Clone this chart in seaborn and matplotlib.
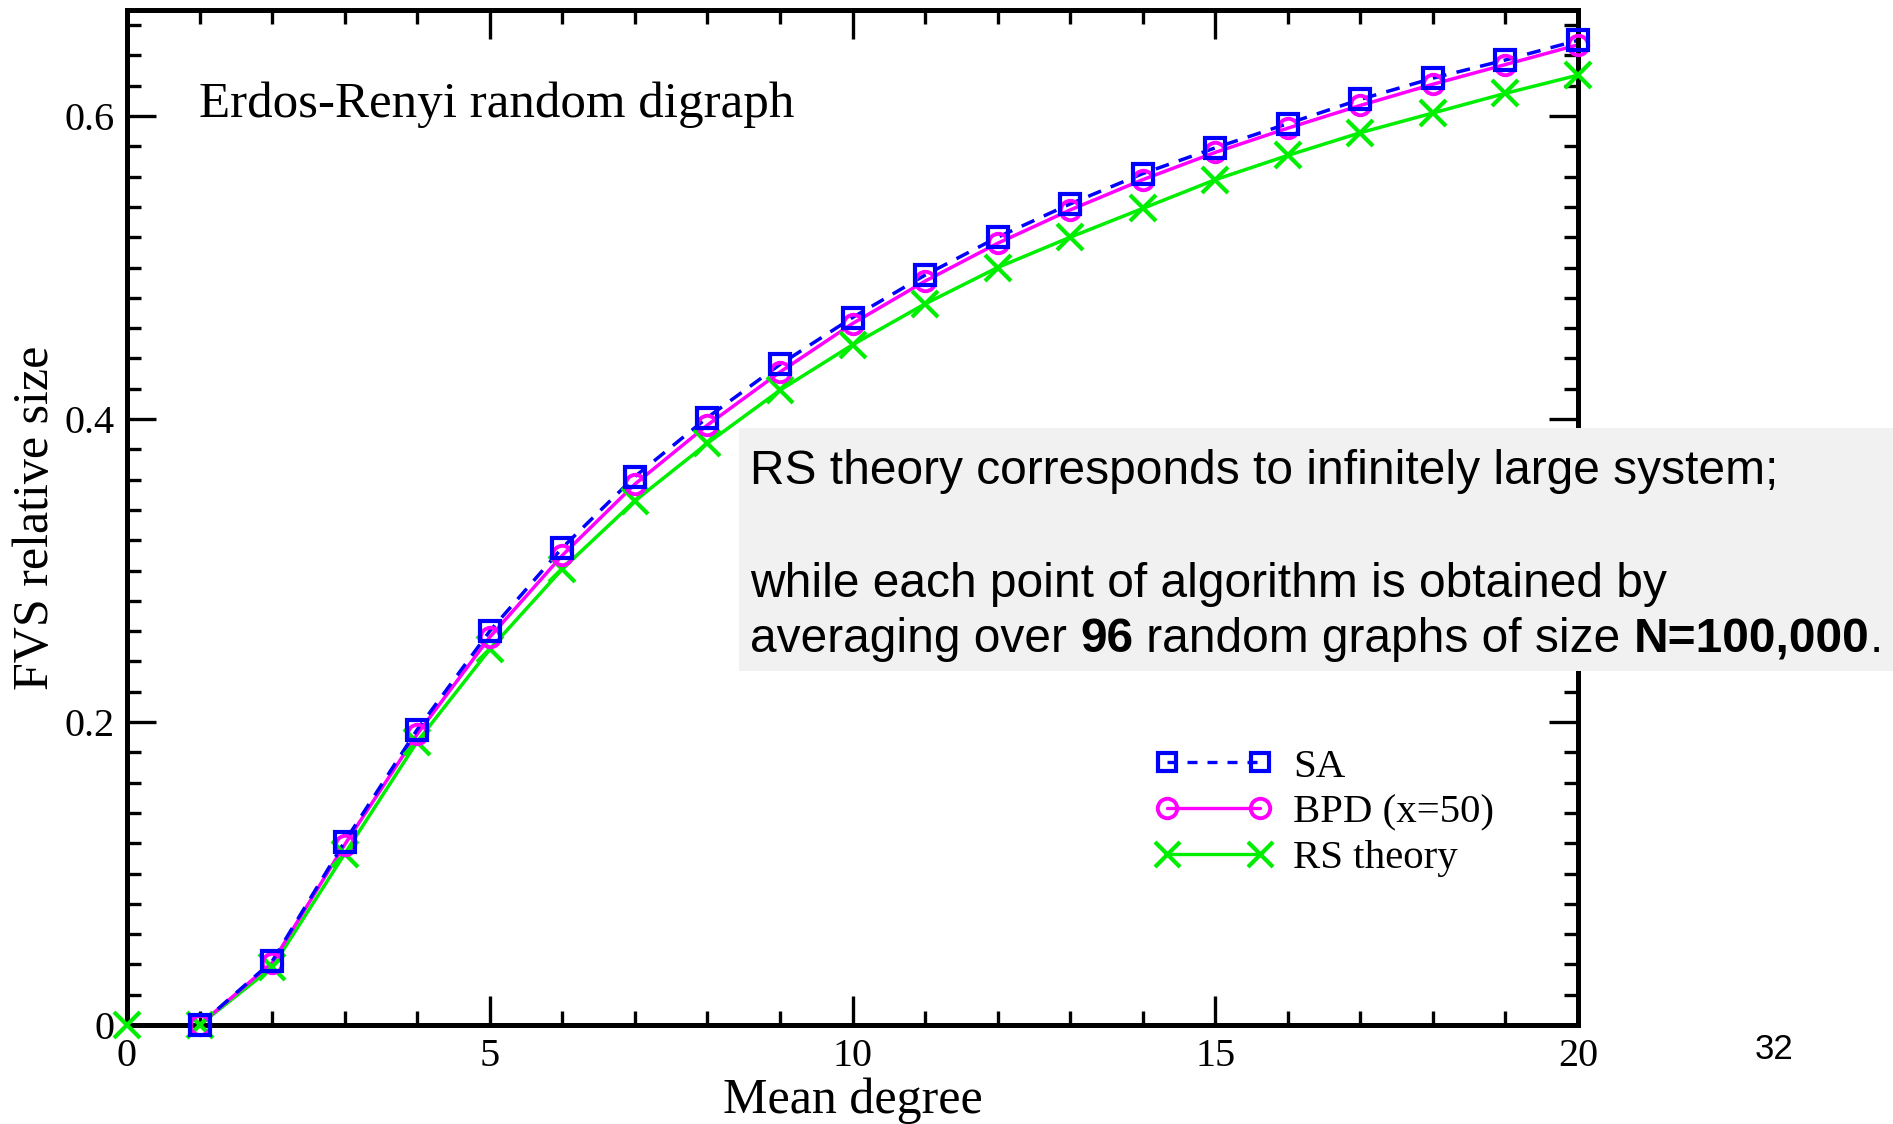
import matplotlib
matplotlib.use("Agg")
import matplotlib.pyplot as plt
from matplotlib.lines import Line2D
from matplotlib.patches import Rectangle
from matplotlib.ticker import MultipleLocator, FixedLocator
import seaborn as sns
import numpy as np

# ---- data ----
deg_alg = [1, 2, 3, 4, 5, 6, 7, 8, 9, 10, 11, 12, 13, 14, 15, 16, 17, 18, 19, 20]
sa_vals = [0.0, 0.042, 0.121, 0.195, 0.260, 0.315, 0.362, 0.401, 0.436, 0.467,
           0.495, 0.520, 0.542, 0.562, 0.579, 0.595, 0.611, 0.625, 0.637, 0.650]
bpd_vals = [0.0, 0.041, 0.119, 0.192, 0.256, 0.310, 0.357, 0.396, 0.431, 0.463,
            0.491, 0.516, 0.538, 0.558, 0.576, 0.592, 0.607, 0.621, 0.634, 0.647]
deg_rs = [0, 1, 2, 3, 4, 5, 6, 7, 8, 9, 10, 11, 12, 13, 14, 15, 16, 17, 18, 19, 20]
rs_vals = [0.0, 0.0, 0.038, 0.113, 0.187, 0.248, 0.301, 0.346, 0.384, 0.419, 0.449,
           0.476, 0.500, 0.520, 0.539, 0.558, 0.574, 0.589, 0.602, 0.615, 0.627]
series_labels = ["SA", "BPD (x=50)", "RS theory"]
x_ticks = [0, 5, 10, 15, 20]
y_ticks = [0, 0.2, 0.4, 0.6]
y_tick_labels = ["0", "0.2", "0.4", "0.6"]

W, H = 1893, 1124
DPI = 100
sns.set_style("white")
plt.rcParams["font.family"] = ["Liberation Serif", "DejaVu Serif"]
plt.rcParams["text.color"] = "black"
plt.rcParams["axes.labelcolor"] = "black"
plt.rcParams["xtick.color"] = "black"
plt.rcParams["ytick.color"] = "black"

fig = plt.figure(figsize=(W / DPI, H / DPI), dpi=DPI)
ax = fig.add_axes([127 / W, 1 - 1025 / H, (1578 - 127) / W, (1025 - 10) / H])

blue = "#0000ff"
mag = "#ff00ff"
green = "#00ee00"

# lines (below the spines)
sns.lineplot(x=deg_rs, y=rs_vals, ax=ax, color=green, lw=2.5, sort=False,
             errorbar=None, legend=False, zorder=2)
sns.lineplot(x=deg_alg, y=bpd_vals, ax=ax, color=mag, lw=2.5, sort=False,
             errorbar=None, legend=False, zorder=2)
sns.lineplot(x=deg_alg, y=sa_vals, ax=ax, color=blue, lw=2.5, linestyle=(0, (4, 3)),
             sort=False, errorbar=None, legend=False, zorder=2)
# markers (above the spines)
sns.lineplot(x=deg_rs, y=rs_vals, ax=ax, color=green, linestyle="", marker="x",
             markersize=19, mew=3.0, mec=green, sort=False, errorbar=None, legend=False,
             clip_on=False, zorder=3)
sns.lineplot(x=deg_alg, y=bpd_vals, ax=ax, color=mag, linestyle="", marker="o",
             markersize=14, mew=2.8, mec=mag, mfc="none", sort=False,
             errorbar=None, legend=False, clip_on=False, zorder=3)
sns.lineplot(x=deg_alg, y=sa_vals, ax=ax, color=blue, linestyle="", marker="s",
             markersize=14, mew=3.0, mec=blue, mfc="none",
             sort=False, errorbar=None, legend=False, clip_on=False, zorder=3)

ax.set_xlim(0, 20)
ax.set_ylim(0, 0.67)
ax.xaxis.set_major_locator(FixedLocator(x_ticks))
ax.xaxis.set_minor_locator(MultipleLocator(1))
ax.yaxis.set_major_locator(FixedLocator(y_ticks))
ax.yaxis.set_minor_locator(MultipleLocator(0.02))
ax.set_xticklabels([str(t) for t in x_ticks])
ax.set_yticklabels(y_tick_labels)
ax.tick_params(which="both", direction="in", top=True, right=True, bottom=True, left=True,
               colors="black", labelsize=29, width=2.4)
ax.tick_params(which="major", length=21, pad=9)
ax.tick_params(which="minor", length=10)
for s in ax.spines.values():
    s.set_linewidth(3.6)
    s.set_color("black")
ax.set_xlabel("Mean degree", fontsize=36, labelpad=2)
ax.set_ylabel("FVS relative size", fontsize=36, labelpad=4)

fig.text(199 / W, 1 - 117 / H, "Erdos-Renyi random digraph", fontsize=36.7,
         ha="left", va="baseline")

# legend
handles = [
    Line2D([], [], color=blue, lw=2.4, linestyle=(0, (3, 3)), marker="s", markersize=13,
           mfc="none", mec=blue, mew=3.0),
    Line2D([], [], color=mag, lw=2.4, marker="o", markersize=14, mfc="none", mec=mag, mew=2.8),
    Line2D([], [], color=green, lw=2.4, marker="x", markersize=18, mec=green, mew=3.0),
]
leg = ax.legend(handles, series_labels, numpoints=2, frameon=False, fontsize=29.4,
                handlelength=2.88, handletextpad=0.5, labelspacing=0.2,
                loc="upper left", bbox_to_anchor=(1155 / W, 1 - 748 / H),
                bbox_transform=fig.transFigure, borderpad=0, borderaxespad=0)
leg.set_zorder(4)

# annotation box
box = Rectangle((739 / W, 1 - 671 / H), 1 - 739 / W, (671 - 428) / H,
                transform=fig.transFigure, facecolor="#f1f1f1", edgecolor="none", zorder=5)
fig.patches.append(box)

sans = ["Liberation Sans", "DejaVu Sans"]
fs = 34.5
tx = 750 / W
fig.text(tx, 1 - 484 / H, "RS theory corresponds to infinitely large system;", fontsize=fs,
         family=sans, ha="left", va="baseline", zorder=6)
fig.text(tx, 1 - 597 / H, "while each point of algorithm is obtained by", fontsize=fs,
         family=sans, ha="left", va="baseline", zorder=6)
pieces = [("averaging over ", "normal"), ("96", "bold"), (" random graphs of size ", "normal"),
          ("N=100,000", "bold"), (".", "normal")]
texts = [fig.text(tx, 1 - 652 / H, txt, fontsize=fs, family=sans, weight=wt,
                  ha="left", va="baseline", zorder=6) for txt, wt in pieces]
fig.canvas.draw()
renderer = fig.canvas.get_renderer()
x_px = tx * W
for t in texts:
    t.set_position((x_px / W, 1 - 652 / H))
    x_px += t.get_window_extent(renderer).width

fig.text(1755 / W, 1 - 1059 / H, "32", fontsize=25, family=sans, ha="left", va="baseline")

fig.savefig("out.png", dpi=DPI)
